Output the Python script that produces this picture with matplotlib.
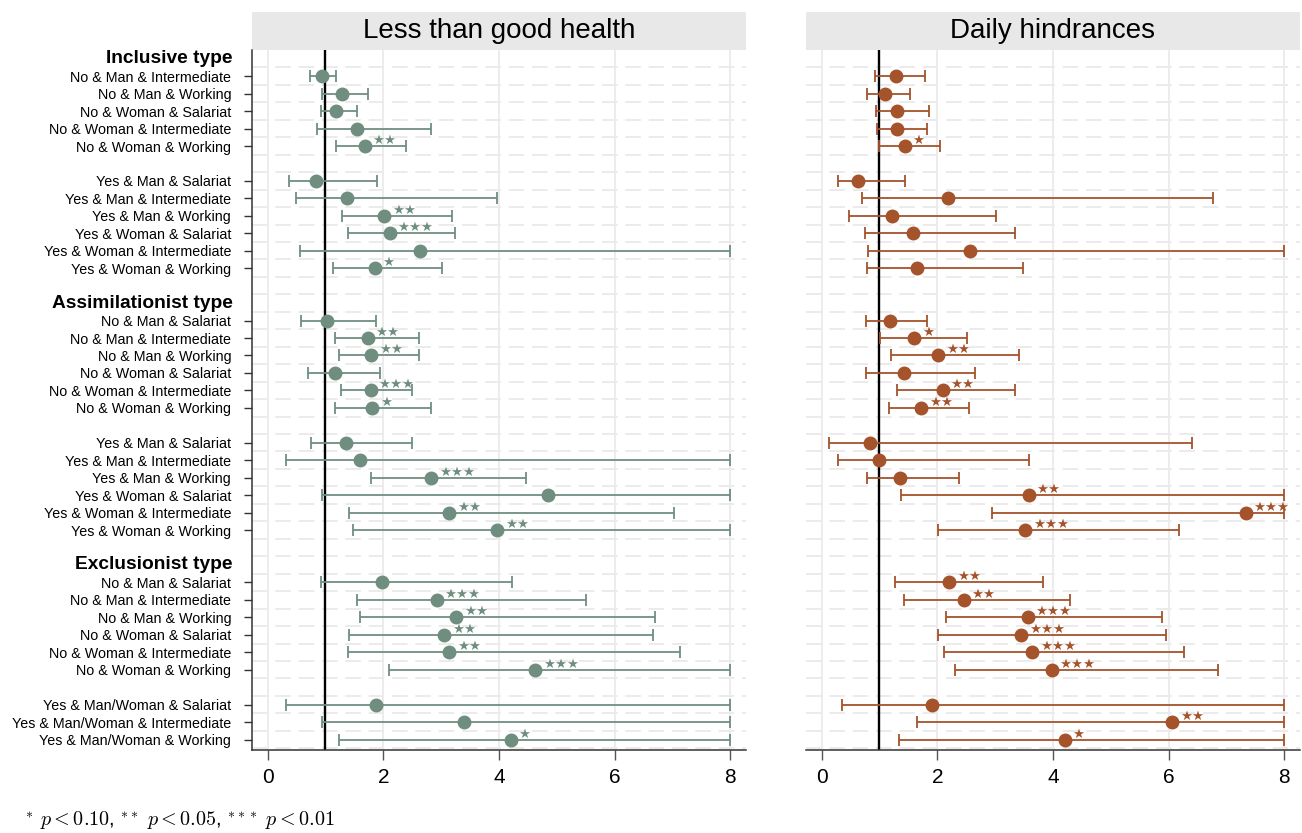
import matplotlib
matplotlib.use("Agg")
import matplotlib.pyplot as plt
from matplotlib.patches import Rectangle
import numpy as np

plt.rcParams['font.family'] = ['Liberation Sans', 'DejaVu Sans']
plt.rcParams['mathtext.fontset'] = 'cm'

# ---------------- data ----------------
group_titles = ["Inclusive type", "Assimilationist type", "Exclusionist type"]

inc_no = ["No & Man & Intermediate", "No & Man & Working", "No & Woman & Salariat",
          "No & Woman & Intermediate", "No & Woman & Working"]
inc_yes = ["Yes & Man & Salariat", "Yes & Man & Intermediate", "Yes & Man & Working",
           "Yes & Woman & Salariat", "Yes & Woman & Intermediate", "Yes & Woman & Working"]
ass_no = ["No & Man & Salariat", "No & Man & Intermediate", "No & Man & Working",
          "No & Woman & Salariat", "No & Woman & Intermediate", "No & Woman & Working"]
ass_yes = ["Yes & Man & Salariat", "Yes & Man & Intermediate", "Yes & Man & Working",
           "Yes & Woman & Salariat", "Yes & Woman & Intermediate", "Yes & Woman & Working"]
exc_no = ["No & Man & Salariat", "No & Man & Intermediate", "No & Man & Working",
          "No & Woman & Salariat", "No & Woman & Intermediate", "No & Woman & Working"]
exc_yes = ["Yes & Man/Woman & Salariat", "Yes & Man/Woman & Intermediate",
           "Yes & Man/Woman & Working"]

panel_titles = ["Less than good health", "Daily hindrances"]

health_est = [0.94, 1.28, 1.19, 1.54, 1.68,
              0.83, 1.38, 2.02, 2.11, 2.64, 1.85,
              1.02, 1.73, 1.79, 1.16, 1.78, 1.81,
              1.36, 1.59, 2.83, 4.84, 3.14, 3.97,
              1.98, 2.92, 3.26, 3.05, 3.14, 4.63,
              1.87, 3.39, 4.20]
health_lo = [0.74, 0.94, 0.93, 0.85, 1.19,
             0.37, 0.49, 1.29, 1.39, 0.56, 1.13,
             0.57, 1.16, 1.23, 0.70, 1.27, 1.16,
             0.75, 0.31, 1.79, 0.94, 1.40, 1.48,
             0.93, 1.55, 1.59, 1.40, 1.39, 2.10,
             0.32, 0.94, 1.24]
health_hi = [1.19, 1.73, 1.54, 2.83, 2.39,
             1.89, 3.96, 3.18, 3.24, 8.00, 3.02,
             1.87, 2.61, 2.61, 1.95, 2.50, 2.82,
             2.49, 8.00, 4.47, 8.00, 7.03, 8.00,
             4.23, 5.51, 6.69, 6.66, 7.13, 8.00,
             8.00, 8.00, 8.00]
health_sig = ["", "", "", "", "**",
              "", "", "**", "***", "", "*",
              "", "**", "**", "", "***", "*",
              "", "", "***", "", "**", "**",
              "", "***", "**", "**", "**", "***",
              "", "", "*"]

hind_est = [1.29, 1.10, 1.31, 1.30, 1.44,
            0.63, 2.18, 1.21, 1.58, 2.56, 1.65,
            1.18, 1.60, 2.02, 1.42, 2.09, 1.72,
            0.84, 1.00, 1.36, 3.58, 7.33, 3.52,
            2.21, 2.46, 3.56, 3.45, 3.64, 3.98,
            1.90, 6.06, 4.20]
hind_lo = [0.93, 0.79, 0.94, 0.95, 1.00,
           0.29, 0.70, 0.48, 0.75, 0.81, 0.78,
           0.77, 1.01, 1.20, 0.77, 1.30, 1.16,
           0.12, 0.29, 0.78, 1.38, 2.95, 2.01,
           1.27, 1.42, 2.15, 2.01, 2.12, 2.31,
           0.36, 1.65, 1.33]
hind_hi = [1.78, 1.53, 1.85, 1.82, 2.05,
           1.45, 6.76, 3.02, 3.34, 8.00, 3.48,
           1.82, 2.51, 3.41, 2.65, 3.34, 2.54,
           6.41, 3.58, 2.37, 8.00, 8.00, 6.17,
           3.82, 4.30, 5.89, 5.95, 6.26, 6.86,
           8.00, 8.00, 8.00]
hind_sig = ["", "", "", "", "*",
            "", "", "", "", "", "",
            "", "*", "**", "", "**", "**",
            "", "", "", "**", "***", "***",
            "**", "**", "***", "***", "***", "***",
            "", "**", "*"]

x_ticks = [0, 2, 4, 6, 8]
footnote = r"$^{*}\ p < 0.10$, $^{**}\ p < 0.05$, $^{***}\ p < 0.01$"

# ---------------- layout ----------------
groups = [(inc_no, inc_yes), (ass_no, ass_yes), (exc_no, exc_yes)]
row_pos, row_labels, header_pos = [], [], []
k = 0
for (a, b) in groups:
    header_pos.append(k)
    k += 1
    for lab in a:
        row_pos.append(k); row_labels.append(lab); k += 1
    k += 1
    for lab in b:
        row_pos.append(k); row_labels.append(lab); k += 1
    k += 1
row_pos = np.array(row_pos, dtype=float)

fig = plt.figure(figsize=(13.02, 8.33), dpi=100)
W, H = 1302, 833
ax1 = fig.add_axes([252 / W, 1 - 750 / H, 494 / W, 700 / H])
ax2 = fig.add_axes([806 / W, 1 - 750 / H, 494 / W, 700 / H])

colors = ["#6F8E80", "#A4532B"]
data = [(health_est, health_lo, health_hi, health_sig),
        (hind_est, hind_lo, hind_hi, hind_sig)]

for i, (ax, (est, lo, hi, sig)) in enumerate(zip([ax1, ax2], data)):
    est = np.array(est); lo = np.array(lo); hi = np.array(hi)
    col = colors[i]
    ax.set_xlim(-0.27, 8.27)
    ax.set_ylim(39.6, -0.5)
    # grid
    for xv in x_ticks:
        ax.axvline(xv, color="#ebebeb", lw=1.3, zorder=0)
    for yv in np.arange(0.5, 40, 1.0):
        ax.axhline(yv, color="#ebebeb", lw=1.4, ls=(0, (8, 4)), zorder=0)
    ax.axvline(1, color="black", lw=1.7, zorder=2)
    ax.errorbar(est, row_pos, xerr=[est - lo, hi - est], fmt="o", color=col,
                ms=9, capsize=4, elinewidth=1.3, capthick=1.3, zorder=3)
    for x, y, s in zip(est, row_pos, sig):
        if s:
            ax.annotate("\u2605" * len(s), xy=(x, y), xytext=(5.5, 4.0),
                        textcoords="offset points", ha="left", va="center",
                        fontsize=9.6, color=col, family="DejaVu Sans", zorder=4)
    # header box
    ax.add_patch(Rectangle((0, 1.0), 1, 38 / 700, transform=ax.transAxes,
                           facecolor="#e8e8e8", edgecolor="none", clip_on=False))
    ax.text(0.5, 1.0 + 19 / 700, panel_titles[i], transform=ax.transAxes,
            ha="center", va="center", fontsize=20)
    for sp in ["top", "right"]:
        ax.spines[sp].set_visible(False)
    ax.spines["bottom"].set_color("#333333")
    ax.spines["bottom"].set_linewidth(1.1)
    ax.set_xticks(x_ticks)
    ax.set_xticklabels([str(t) for t in x_ticks])
    ax.tick_params(axis="x", length=7, width=1, color="#555555", labelsize=15, pad=6)

ax1.spines["left"].set_color("#333333")
ax1.spines["left"].set_linewidth(1.1)
ax1.set_yticks(row_pos)
ax1.set_yticklabels(row_labels)
ax1.tick_params(axis="y", length=6, width=1, color="#333333", labelsize=10.3, pad=9)
for hp, title in zip(header_pos, group_titles):
    ax1.annotate(title, xy=(0, hp), xycoords=("axes fraction", "data"),
                 xytext=(-14, 0), textcoords="offset points",
                 ha="right", va="center", fontsize=13.8, fontweight="bold")

ax2.spines["left"].set_visible(False)
ax2.set_yticks([])

fig.text(25 / W, 1 - 821 / H, footnote, fontsize=14.5, ha="left", va="center")

fig.savefig("out.png", dpi=100)
